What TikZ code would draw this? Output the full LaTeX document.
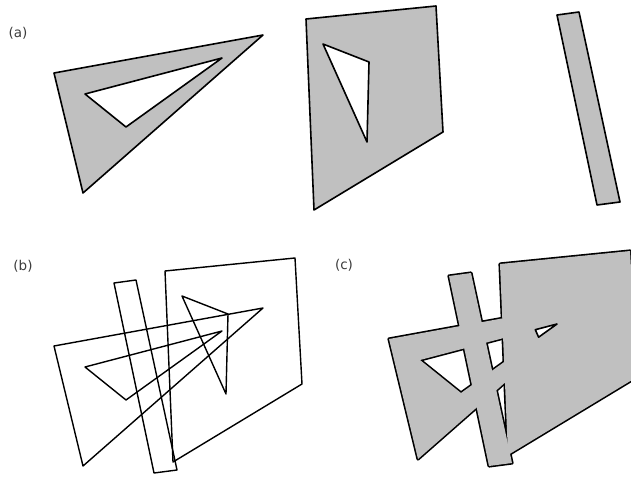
\documentclass[tikz,border=0pt]{standalone}
\usepackage{fontspec}
\setmainfont{DejaVu Sans}
\definecolor{shapegray}{RGB}{192,192,192}
\definecolor{labelgray}{RGB}{60,60,60}

% the three pieces, placed as in (b)
\newcommand{\trianglepath}{(54,346) -- (263,308) -- (83,466) -- cycle
    (85,367) -- (222,331) -- (126,400) -- cycle}
\newcommand{\quadouter}{(165,271) -- (295,258) -- (302,384) -- (173,462) -- cycle}
\newcommand{\quadpath}{\quadouter
    (182,296) -- (228,314) -- (226,394) -- cycle}
\newcommand{\strippath}{(114,283) -- (136,280) -- (177,470) -- (154,473) -- cycle}

\begin{document}
\begin{tikzpicture}[x=1pt, y=-1pt, line join=round,
        piece/.style = {draw, line width=1.6pt, fill=shapegray, even odd rule},
        wire/.style = {draw, line width=1.4pt},
        halo/.style = {draw, line width=3.2pt},
        body/.style = {fill=shapegray, even odd rule},
        tag/.style = {text=labelgray, font=\fontsize{13.5}{16}\selectfont}]
    \useasboundingbox (0,0) rectangle (631,478);
    \clip (0,0) rectangle (631,478);

    \node[tag] (tagA) at (18,33) {(a)};
    \node[tag] (tagB) at (23,266) {(b)};
    \node[tag] (tagC) at (344,265) {(c)};

    % (a) pieces apart
    \path[piece, shift={(0,-273)}] \trianglepath;
    \path[piece, shift={(141,-252)}] \quadpath;
    \path[piece, shift={(443,-268)}] \strippath;

    % (b) outlines on top of each other
    \path[wire] \trianglepath;
    \path[wire] \quadpath;
    \path[wire] \strippath;

    % (c) merged: thick outlines, then fill over them
    \begin{scope}[shift={(335,-7)}]
        \path[halo] \trianglepath;
        \path[halo] \quadouter;
        \path[halo] \strippath;
        \path[body] \trianglepath;
        \path[body] \quadouter;
        \path[body] \strippath;
        % where both holes meet
        \path[draw, line width=1.6pt, fill=white] (200.3,336.7) -- (222,331) -- (203.6,344.2) -- cycle;
    \end{scope}
\end{tikzpicture}
\end{document}
